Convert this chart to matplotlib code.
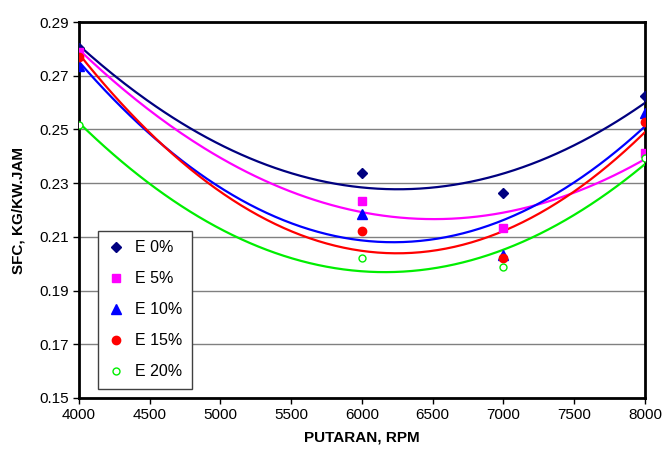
import numpy as np
import matplotlib.pyplot as plt

plt.rcParams['font.family'] = ['Liberation Sans', 'DejaVu Sans']

rpm = [4000, 6000, 7000, 8000]
labels = ['E 0%', 'E 5%', 'E 10%', 'E 15%', 'E 20%']
e0 = [0.2804, 0.2338, 0.2264, 0.2626]
e5 = [0.2790, 0.2235, 0.2133, 0.2411]
e10 = [0.2736, 0.2184, 0.2033, 0.2560]
e15 = [0.2769, 0.2122, 0.2023, 0.2527]
e20 = [0.2517, 0.2020, 0.1988, 0.2395]

series = [e0, e5, e10, e15, e20]
colors = ['#000080', '#ff00ff', '#0000ff', '#ff0000', '#00ee00']
markers = ['D', 's', '^', 'o', 'o']
msizes = [5, 6, 7, 6, 5]

fig = plt.figure(figsize=(6.62, 4.55), dpi=100)
ax = fig.add_axes([0.1193, 0.1253, 0.855, 0.8263])

# quadratic trendlines, as in the original spreadsheet chart
xs = np.linspace(4000, 8000, 200)
for y, c, m, ms, lab in zip(series, colors, markers, msizes, labels):
    coef = np.polyfit(rpm, y, 2)
    ax.plot(xs, np.polyval(coef, xs), color=c, lw=1.6, zorder=3)
    if lab == 'E 20%':
        ax.plot(rpm, y, ls='none', marker=m, ms=ms, mfc='white', mec=c, mew=1.0, label=lab, zorder=4)
    else:
        ax.plot(rpm, y, ls='none', marker=m, ms=ms, color=c, label=lab, zorder=4)

ax.set_xlim(4000, 8000)
ax.set_ylim(0.15, 0.29)
ax.set_xticks(np.arange(4000, 8001, 500))
ax.set_yticks(np.arange(0.15, 0.2901, 0.02))
ax.set_yticklabels(['%.2f' % v for v in np.arange(0.15, 0.2901, 0.02)])
ax.yaxis.grid(True, color='#808080', lw=1.0)
ax.set_axisbelow(True)
ax.tick_params(direction='out', length=4, width=1, labelsize=11)
for s in ax.spines.values():
    s.set_linewidth(2)

ax.set_xlabel('PUTARAN, RPM', fontsize=11, fontweight='bold', labelpad=6)
ax.set_ylabel('SFC, KG/KW.JAM', fontsize=11, fontweight='bold', labelpad=10)

leg = ax.legend(loc='lower left', bbox_to_anchor=(0.026, 0.012), fancybox=False,
                framealpha=1, edgecolor='#404040', fontsize=11.5, labelspacing=1.0,
                handlelength=1.0, handletextpad=0.7, borderpad=0.6, borderaxespad=0.3)
leg.get_frame().set_linewidth(1)

fig.savefig('out.png', dpi=100)
